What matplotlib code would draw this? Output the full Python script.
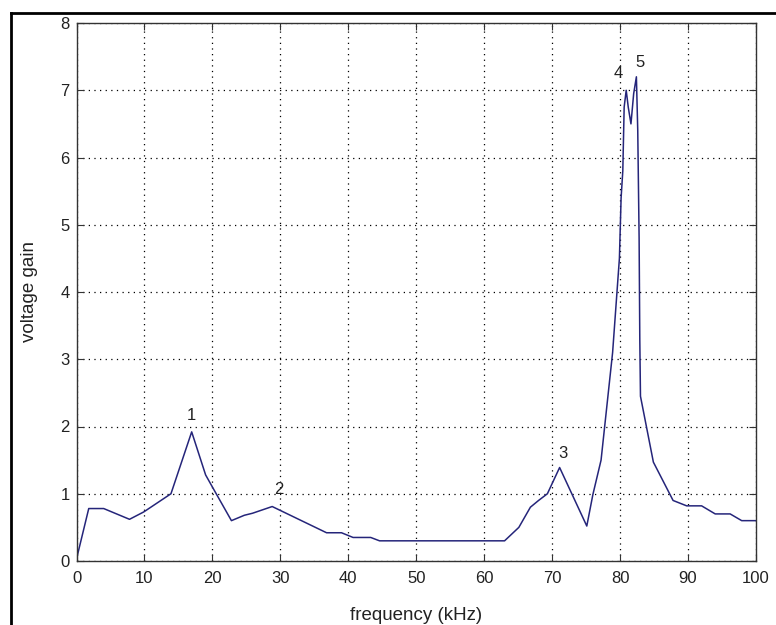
import matplotlib
matplotlib.use("Agg")
import matplotlib.pyplot as plt
from matplotlib.lines import Line2D

# frequency (kHz) and voltage gain
freq = [0, 1.8, 4.0, 7.8, 9.9, 13.9, 16.95, 19.0, 20.0, 22.8, 24.7, 25.9,
        28.8, 32.9, 36.8, 39.0, 40.7, 43.3, 44.6, 63.0, 65.1, 66.8, 68.0,
        69.3, 71.1, 75.1, 76.0, 77.2, 78.9, 79.9, 80.15, 80.4, 80.6, 80.9,
        81.2, 81.6, 82.0, 82.4, 82.6, 82.8, 82.9, 83.0, 84.9, 87.8, 89.8,
        92.0, 94.0, 96.2, 97.9, 100]
gain = [0.03, 0.78, 0.78, 0.62, 0.73, 1.0, 1.92, 1.28, 1.1, 0.6, 0.68, 0.71,
        0.81, 0.61, 0.42, 0.42, 0.35, 0.35, 0.30, 0.30, 0.50, 0.80, 0.90,
        1.0, 1.39, 0.52, 0.99, 1.5, 3.1, 4.5, 5.4, 5.8, 6.75, 7.0,
        6.75, 6.5, 6.95, 7.2, 6.4, 4.8, 3.3, 2.45, 1.47, 0.9, 0.82,
        0.82, 0.70, 0.70, 0.60, 0.60]

# numbered resonance labels
peak_labels = ["1", "2", "3", "4", "5"]
peak_x = [16.9, 29.7, 71.6, 79.7, 82.9]
peak_y = [2.17, 1.06, 1.6, 7.25, 7.42]

plt.rcParams['font.family'] = ['Liberation Sans', 'DejaVu Sans']

fig = plt.figure(figsize=(7.76, 6.25), dpi=100)
ax = fig.add_axes([0.0986, 0.1024, 0.8756, 0.8608])

ax.plot(freq, gain, color='#25257a', linewidth=1.1)

for lab, x, y in zip(peak_labels, peak_x, peak_y):
    ax.text(x, y, lab, ha='center', va='center', fontsize=12, color='#222222')

ax.set_xlim(0, 100)
ax.set_ylim(0, 8)
ax.set_xticks(range(0, 101, 10))
ax.set_yticks(range(0, 9))
ax.grid(True, color='black', linestyle=(0, (1, 3.5)), linewidth=0.9)
ax.tick_params(direction='in', top=True, right=True, length=5,
               labelsize=12, colors='#333333', labelcolor='#222222', pad=5)
ax.tick_params(axis='x', pad=7)
for s in ax.spines.values():
    s.set_linewidth(1.0)
    s.set_color('#333333')

ax.set_xlabel('frequency (kHz)', fontsize=13.5, color='#222222', labelpad=15)
ax.set_ylabel('voltage gain', fontsize=13.5, color='#222222', labelpad=16)

# border on top and left edge of the screenshot
fig.add_artist(Line2D([11 / 776, 1], [1 - 13 / 625, 1 - 13 / 625],
                      transform=fig.transFigure, color='black', linewidth=2))
fig.add_artist(Line2D([11 / 776, 11 / 776], [0, 1 - 13 / 625],
                      transform=fig.transFigure, color='black', linewidth=2))

fig.savefig('out.png', dpi=100)
